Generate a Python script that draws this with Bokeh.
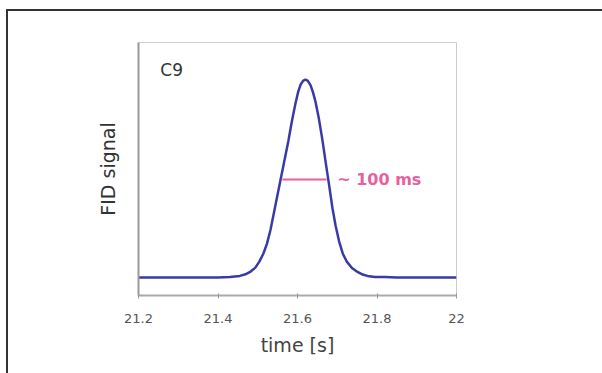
from bokeh.plotting import figure
from bokeh.models import Range1d, Label, FixedTicker, InlineStyleSheet
from bokeh.embed import file_html
from bokeh.resources import INLINE

# peak data (time in s, normalised FID signal)
time_s = [21.20, 21.30, 21.40, 21.43, 21.455, 21.469, 21.482, 21.494, 21.504, 21.514,
          21.523, 21.532, 21.545, 21.557, 21.565, 21.577, 21.586, 21.595, 21.602,
          21.608, 21.614, 21.620, 21.626, 21.633, 21.639, 21.645, 21.654, 21.663,
          21.671, 21.680, 21.688, 21.696, 21.705, 21.714, 21.724, 21.737, 21.751,
          21.764, 21.776, 21.795, 21.82, 21.85, 21.90, 21.95, 22.00]
signal = [0.0, 0.0, 0.0, 0.002, 0.008, 0.016, 0.03, 0.05, 0.08, 0.12,
          0.17, 0.24, 0.37, 0.49, 0.57, 0.69, 0.79, 0.88, 0.94,
          0.975, 0.993, 1.0, 0.993, 0.97, 0.935, 0.89, 0.80, 0.69,
          0.58, 0.46, 0.35, 0.26, 0.18, 0.12, 0.08, 0.048, 0.028,
          0.015, 0.008, 0.003, 0.002, 0.0, 0.0, 0.0, 0.0]

fwhm_t = [21.562, 21.673]
fwhm_y = [0.495, 0.495]
fwhm_label = "~ 100 ms"
peak_name = "C9"
x_ticks = [21.2, 21.4, 21.6, 21.8, 22.0]
x_tick_labels = {21.2: "21.2", 21.4: "21.4", 21.6: "21.6", 21.8: "21.8", 22.0: "22"}

FONT = "DejaVu Sans"

p = figure(width=602, height=373, output_backend="svg", toolbar_location=None,
           x_range=Range1d(21.2, 22.0), y_range=Range1d(-0.091, 1.187),
           min_border_left=138, min_border_right=146, min_border_top=42, min_border_bottom=78)

p.background_fill_color = "white"
p.border_fill_color = "white"
p.outline_line_color = "#cccccc"
p.outline_line_width = 1
p.xgrid.visible = False
p.ygrid.visible = False

# x axis
p.xaxis.ticker = FixedTicker(ticks=x_ticks)
p.xaxis.major_label_overrides = x_tick_labels
p.xaxis.axis_line_color = "#aaaaaa"
p.xaxis.axis_line_width = 2
p.xaxis.major_tick_line_color = "#999999"
p.xaxis.major_tick_in = 2
p.xaxis.major_tick_out = 3
p.xaxis.minor_tick_line_color = None
p.xaxis.major_label_text_font = FONT
p.xaxis.major_label_text_font_size = "13px"
p.xaxis.major_label_text_color = "#555555"
p.xaxis.major_label_standoff = 15
p.xaxis.axis_label = "time [s]"
p.xaxis.axis_label_text_font = FONT
p.xaxis.axis_label_text_font_size = "19px"
p.xaxis.axis_label_text_font_style = "normal"
p.xaxis.axis_label_text_color = "#444444"
p.xaxis.axis_label_standoff = 8

# y axis
p.yaxis.ticker = FixedTicker(ticks=[])
p.yaxis.axis_line_color = "#999999"
p.yaxis.axis_line_width = 2
p.yaxis.major_tick_line_color = None
p.yaxis.minor_tick_line_color = None
p.yaxis.axis_label = "FID signal"
p.yaxis.axis_label_text_font = FONT
p.yaxis.axis_label_text_font_size = "19px"
p.yaxis.axis_label_text_font_style = "normal"
p.yaxis.axis_label_text_color = "#333333"
p.yaxis.axis_label_standoff = 20

p.line(time_s, signal, line_color="#3a3aa6", line_width=2.5)
p.line(fwhm_t, fwhm_y, line_color="#e8609f", line_width=2)

p.add_layout(Label(x=21.70, y=fwhm_y[0], text=fwhm_label, text_font=FONT,
                   text_font_size="16px", text_font_style="bold", text_color="#e8609f",
                   text_baseline="middle", text_align="left"))
p.add_layout(Label(x=21.255, y=1.0, text=peak_name, text_font=FONT,
                   text_font_size="17px", text_color="#333333",
                   text_baseline="bottom", text_align="left"))

# outer picture frame (top and left edges of the original figure box)
p.stylesheets = [InlineStyleSheet(css="""
:host { position: relative; }
:host::after {
  content: "";
  position: absolute;
  left: 6px; top: 9px;
  width: 596px; height: 364px;
  border-top: 2px solid #333333;
  border-left: 2px solid #333333;
  box-sizing: border-box;
  pointer-events: none;
}
""")]

open("out.html", "w").write(file_html(p, INLINE))
